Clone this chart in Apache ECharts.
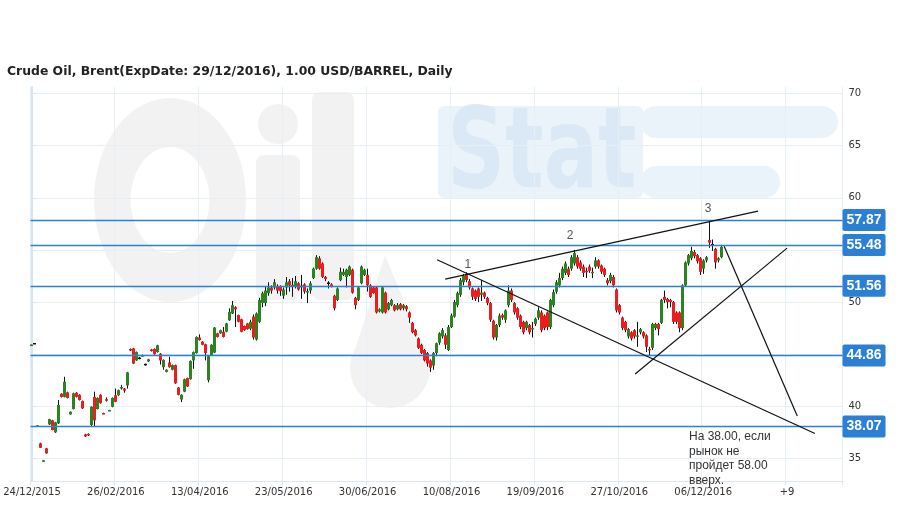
<!DOCTYPE html>
<html><head><meta charset="utf-8">
<script src="https://cdn.jsdelivr.net/npm/echarts@6/dist/echarts.min.js"></script>
<style>html,body{margin:0;padding:0;background:#fff}#c{width:909px;height:509px}</style>
</head><body><div id="c"></div>
<script>
const titleText = 'Crude Oil, Brent(ExpDate: 29/12/2016), 1.00 USD/BARREL, Daily';
const tickLabels = ['24/12/2015','26/02/2016','13/04/2016','23/05/2016','30/06/2016','10/08/2016','19/09/2016','27/10/2016','06/12/2016','+9'];
const labelStep = 28;
const nCat = 271;
// [open, close, low, high] per daily bar
const ohlc = [
[45.85,45.92,45.85,45.92],[46.0,46.0,46.0,46.0],[38.1,38.18,38.1,38.18],[36.44,36.02,36.0,36.5],[34.72,34.82,34.7,34.85],
[35.96,35.48,35.45,36.0],[38.26,38.77,38.2,38.8],[38.65,37.72,37.7,38.7],[37.5,38.46,37.45,38.5],[38.36,40.12,38.3,40.6],
[41.2,40.9,40.85,41.25],[40.9,42.35,40.85,42.83],[41.33,40.8,40.75,41.4],[39.22,39.47,39.2,39.5],[39.73,41.24,39.7,41.3],
[41.3,40.9,40.85,41.35],[41.1,40.6,40.55,41.15],[40.5,39.8,39.75,40.55],[37.3,37.1,37.05,37.35],[37.35,37.2,37.15,37.4],
[38.2,39.95,38.1,40.0],[40.9,38.65,38.1,41.4],[39.73,40.8,39.7,40.85],[41.1,40.3,40.25,41.15],[39.35,39.28,39.25,39.38],
[40.68,40.6,40.45,40.85],[39.58,39.64,39.55,39.66],[39.95,40.8,39.9,40.85],[41.06,40.43,40.4,41.7],[41.06,41.55,41.0,41.6],
[41.75,41.85,41.6,42.05],[41.7,41.5,41.3,41.75],[42.0,43.25,41.7,43.3],[45.5,45.35,45.3,45.55],[45.55,44.1,44.05,45.6],
[44.4,45.2,44.35,45.25],[44.6,44.6,44.5,44.75],[44.85,44.85,44.8,44.95],[44.0,44.0,43.9,44.1],[44.3,44.5,44.25,44.55],
[45.45,45.3,45.25,45.5],[45.5,45.0,44.95,45.55],[45.2,45.85,45.15,45.9],[45.05,44.4,44.0,45.1],[43.75,44.45,43.5,44.5],
[43.3,43.5,43.25,43.55],[44.2,43.75,43.7,44.75],[43.5,43.95,43.45,44.0],[43.95,42.2,42.15,44.0],[41.8,41.1,41.05,41.85],
[40.65,41.1,40.4,41.15],[41.4,42.6,41.35,42.65],[42.7,41.9,41.85,42.75],[42.6,44.35,42.55,44.4],[44.4,45.2,43.6,45.25],
[45.1,46.65,45.05,46.7],[46.6,46.35,46.3,46.9],[46.2,45.9,45.85,46.25],[45.95,45.1,44.4,46.0],[42.5,44.8,42.3,44.85],
[44.9,45.9,44.85,45.95],[45.15,47.55,45.1,47.6],[47.0,46.65,46.6,47.05],[47.0,47.3,46.95,47.35],[47.15,46.65,46.6,47.6],
[47.15,47.95,47.1,48.0],[48.25,49.05,48.2,49.4],[48.9,49.7,48.85,50.1],[49.5,49.3,47.6,49.6],[48.75,48.1,48.05,48.8],
[48.35,47.15,47.1,48.4],[47.7,47.3,47.25,47.75],[47.95,47.4,47.35,48.0],[47.45,48.1,47.3,48.3],[48.6,46.6,46.4,48.8],
[46.4,48.9,46.3,49.0],[48.1,50.2,48.0,50.4],[49.9,50.85,49.5,51.0],[49.9,51.1,49.6,51.5],[50.85,51.4,50.6,51.9],
[51.4,51.1,50.8,51.6],[51.4,51.9,51.2,52.2],[51.5,51.1,50.8,51.7],[51.5,51.05,50.6,51.6],[50.6,51.2,50.3,51.4],
[51.4,51.9,50.7,52.4],[52.0,51.6,51.0,52.2],[51.6,51.65,50.5,52.3],[51.5,52.0,51.3,52.5],[51.8,51.2,51.1,51.9],
[51.5,51.5,50.3,52.6],[51.7,51.0,50.8,51.8],[51.0,51.05,49.9,51.3],[51.1,51.8,50.8,52.0],[52.3,53.2,52.2,53.3],
[53.2,54.3,53.1,54.5],[54.2,53.2,53.1,54.4],[53.7,52.4,52.3,53.8],[52.4,52.2,52.0,52.5],[51.8,51.8,51.3,52.0],
[51.7,51.5,51.4,51.8],[50.6,49.4,49.2,50.7],[50.2,51.3,50.1,51.4],[52.1,52.9,52.0,53.3],[52.6,52.9,52.5,53.2],
[52.4,53.1,51.4,53.2],[52.6,53.4,52.5,53.5],[53.1,50.9,50.8,53.2],[50.4,49.7,49.3,50.5],[50.2,51.4,50.1,51.5],
[51.8,53.4,51.7,53.5],[52.6,53.1,52.5,53.2],[52.6,51.6,51.0,53.2],[51.6,50.5,50.4,51.7],[51.4,50.85,50.8,51.5],
[51.4,49.0,48.9,51.5],[49.1,49.3,49.0,49.4],[49.0,51.4,48.9,51.5],[50.9,49.0,48.9,51.0],[49.3,49.9,49.2,50.0],
[49.7,50.2,49.6,50.3],[49.7,49.2,49.1,49.8],[49.3,49.7,49.2,49.9],[49.8,49.3,49.2,49.9],[49.4,49.7,49.2,49.8],
[49.6,49.3,49.1,49.7],[49.0,48.5,48.0,49.1],[48.0,47.1,47.0,48.1],[47.3,46.8,46.7,47.4],[46.5,45.6,45.5,46.6],
[45.9,45.1,45.0,46.0],[45.4,44.4,44.3,45.5],[45.1,44.1,43.8,45.2],[44.4,43.7,43.3,44.5],[43.9,45.1,43.5,45.2],
[45.1,46.05,44.8,46.1],[46.1,47.0,45.9,47.1],[46.7,47.3,46.5,47.5],[46.8,45.9,45.5,47.0],[45.4,47.6,45.3,47.8],
[47.6,48.7,47.5,48.9],[48.6,50.0,48.5,50.2],[49.7,50.85,49.5,51.0],[50.7,52.1,50.5,52.3],[51.9,52.5,51.6,52.7],
[52.6,52.1,51.9,52.85],[52.0,51.4,51.2,52.2],[51.3,50.5,50.2,51.4],[51.1,50.3,50.1,51.2],[51.3,50.5,50.0,51.4],
[50.7,50.9,50.1,52.1],[50.9,50.5,50.3,51.0],[50.4,49.9,49.7,50.5],[49.9,48.3,48.1,50.0],[48.2,46.6,46.4,48.3],
[46.6,47.8,46.3,47.9],[47.8,48.7,47.6,48.9],[48.75,48.5,48.3,48.9],[48.3,49.2,48.0,49.3],[49.7,51.1,49.5,51.6],
[51.1,50.2,50.0,51.3],[49.9,49.0,48.8,50.0],[49.4,48.5,48.3,49.5],[48.7,47.6,47.4,48.8],[48.1,47.1,46.9,48.2],
[47.5,48.1,47.3,48.2],[47.8,47.1,46.9,47.9],[47.4,47.5,46.6,48.1],[47.9,48.4,47.7,48.5],[48.5,49.2,48.3,49.5],
[49.0,47.3,47.1,49.2],[48.7,47.5,47.3,48.8],[49.0,47.6,47.3,49.1],[47.6,50.2,47.4,50.3],[49.7,50.95,49.5,51.2],
[51.0,51.9,50.8,52.1],[51.6,52.3,51.4,52.8],[52.3,53.2,52.1,53.4],[52.8,53.7,52.6,53.9],[53.2,52.6,52.4,53.4],
[53.2,54.3,53.0,54.5],[53.7,54.7,53.5,55.0],[54.3,53.4,53.2,54.5],[53.8,53.2,53.0,54.0],[53.4,52.8,52.4,53.6],
[53.0,52.95,52.3,53.3],[53.4,53.0,52.8,53.6],[52.8,52.9,52.3,53.3],[53.4,54.0,53.2,54.3],[54.0,53.4,53.2,54.1],
[53.5,52.9,52.7,53.6],[53.2,52.6,52.4,53.3],[52.1,51.8,51.6,52.3],[52.0,52.6,51.8,52.8],[52.4,51.6,51.4,52.6],
[51.2,49.2,49.0,51.3],[49.7,49.0,48.8,49.8],[48.5,47.5,47.3,48.6],[48.1,47.3,47.1,48.2],[46.7,47.4,46.5,47.5],
[47.1,46.5,46.3,47.2],[47.3,46.7,46.5,47.4],[46.7,46.8,45.7,48.1],[47.1,47.4,46.9,47.5],[47.1,46.7,46.5,47.2],
[46.8,45.7,45.2,46.9],[45.5,45.45,44.9,45.7],[45.6,47.9,45.4,48.0],[47.5,47.9,47.3,48.0],[47.9,47.4,46.8,48.0],
[48.0,50.2,47.9,50.3],[50.5,50.2,49.9,51.1],[50.3,50.0,49.4,50.4],[50.2,50.0,49.5,50.3],[50.0,48.1,47.9,50.1],
[49.0,48.1,47.9,49.1],[49.0,47.5,47.1,49.1],[47.5,51.6,47.3,51.7],[51.6,53.8,51.5,53.9],[53.7,54.5,53.5,54.6],
[54.2,54.9,54.0,55.3],[54.8,54.4,54.2,55.0],[54.5,53.9,53.7,54.6],[54.2,52.9,52.6,54.3],[53.2,54.0,52.7,54.1],
[54.0,54.3,53.8,54.4],[55.95,55.7,55.2,57.87],[55.5,55.5,54.9,56.0],[55.1,53.8,53.2,55.2],[54.0,54.2,53.8,54.3],
[54.3,55.3,54.2,55.5]
];
const levels = [57.87, 55.48, 51.56, 44.86, 38.07];
// trend lines: [[barIndex, price], [barIndex, price]]
const trendLines = [
  [[137.9, 52.2], [242.3, 58.72]],
  [[135.2, 54.06], [261.3, 37.38]],
  [[201.3, 43.09], [252.0, 55.17]],
  [[231.0, 55.36], [255.4, 39.06]]
];
const waveLabels = [['1', 145.5, 53.54], ['2', 179.6, 56.32], ['3', 225.6, 59.0]];
const noteText = 'На 38.00, если\nрынок не\nпройдет 58.00\nвверх.';
const yMin = 32.83, yMax = 70.63;

const categories = Array.from({length: nCat}, (_, i) => String(i));
const candleData = ohlc.map((d, i) => [i, d[0], d[1], d[2], d[3]]);

const chart = echarts.init(document.getElementById('c'), null, {renderer: 'canvas'});
const gridColor = '#e6eef6';
const wmGray = '#f2f2f2';
const wmBlue = '#ebf3fa';
chart.setOption({
  animation: false,
  backgroundColor: '#fff',
  title: {
    text: titleText, left: 2, top: 61,
    textStyle: {fontFamily: 'DejaVu Sans', fontWeight: 'bold', fontSize: 12.4, color: '#222'}
  },
  grid: {left: 30.5, right: 66.5, top: 87, bottom: 28, outerBoundsMode: 'none'},
  graphic: {elements: [
    {type: 'ring', z: -10, x: 170, y: 200, scaleX: 0.76, scaleY: 1.02, shape: {cx: 0, cy: 0, r: 100, r0: 52}, style: {fill: wmGray}},
    {type: 'rect', z: -10, shape: {x: 256, y: 155, width: 44, height: 145, r: 8}, style: {fill: wmGray}},
    {type: 'circle', z: -10, shape: {cx: 278, cy: 124, r: 20}, style: {fill: wmGray}},
    {type: 'rect', z: -10, shape: {x: 312, y: 92, width: 42, height: 208, r: 8}, style: {fill: wmGray}},
    {type: 'circle', z: -10, shape: {cx: 390, cy: 368, r: 40}, style: {fill: wmGray}},
    {type: 'polygon', z: -10, shape: {points: [[385, 255], [352, 360], [428, 360]]}, style: {fill: wmGray}},
    {type: 'rect', z: -10, shape: {x: 438, y: 106, width: 205, height: 92, r: 6}, style: {fill: wmBlue}},
    {type: 'text', z: -9, x: 447, y: 102, scaleX: 0.72, style: {text: 'Stat', font: 'bold 112px "DejaVu Sans"', fill: '#dbe9f6'}},
    {type: 'rect', z: -10, shape: {x: 640, y: 106, width: 198, height: 32, r: 16}, style: {fill: wmBlue}},
    {type: 'rect', z: -10, shape: {x: 640, y: 166, width: 140, height: 32, r: 16}, style: {fill: wmBlue}},
    {type: 'text', z: 5, x: 689, y: 429.5, style: {text: noteText, font: '12px "Liberation Sans"', fill: '#333', lineHeight: 14.5}}
  ]},
  xAxis: [{
    type: 'category', data: categories, boundaryGap: true,
    axisLine: {show: true, lineStyle: {color: '#dce6ef', width: 1}},
    axisTick: {show: true, interval: labelStep - 1, length: 4, lineStyle: {color: '#dce6ef'}},
    splitLine: {show: true, interval: labelStep - 1, lineStyle: {color: gridColor, width: 1}},
    axisLabel: {
      interval: labelStep - 1, margin: 6, color: '#333', fontSize: 10, fontFamily: 'DejaVu Sans',
      formatter: (v, idx) => idx % labelStep === 0 ? (tickLabels[idx / labelStep] || '') : ''
    }
  }, {
    type: 'value', show: false, min: -0.5, max: nCat - 0.5
  }],
  yAxis: {
    type: 'value', position: 'right', min: yMin, max: yMax, splitNumber: 8, scale: true,
    axisLine: {show: true, lineStyle: {color: '#d8e5f0', width: 2}},
    axisTick: {show: true, length: 4, lineStyle: {color: '#d8e5f0'}},
    splitLine: {show: true, showMinLine: false, showMaxLine: false, lineStyle: {color: gridColor, width: 1}},
    axisLabel: {margin: 6, color: '#333', fontSize: 10, fontFamily: 'DejaVu Sans', showMinLabel: false, showMaxLabel: false}
  },
  series: [{
    type: 'custom',
    xAxisIndex: 0,
    data: candleData,
    encode: {x: 0, y: [1, 2, 3, 4]},
    renderItem: function (params, api) {
      const i = api.value(0), o = api.value(1), c = api.value(2), l = api.value(3), h = api.value(4);
      const pO = api.coord([i, o]), pC = api.coord([i, c]);
      const pL = api.coord([i, l]), pH = api.coord([i, h]);
      const cx = Math.floor(pO[0]) + 0.5;
      const children = [{type: 'line', shape: {x1: cx, y1: pH[1], x2: cx, y2: pL[1]}, style: {stroke: '#111', lineWidth: 1}}];
      if (o === c) {
        children.push({type: 'line', shape: {x1: cx - 1.5, y1: pO[1], x2: cx + 1.5, y2: pO[1]}, style: {stroke: '#111', lineWidth: 1.5}});
      } else {
        const top = Math.min(pO[1], pC[1]);
        const hgt = Math.max(Math.abs(pO[1] - pC[1]), 1.5);
        children.push({type: 'rect', shape: {x: cx - 1.5, y: top, width: 3, height: hgt},
          style: {fill: c > o ? '#2c8420' : '#ee1c1c'}});
      }
      return {type: 'group', children};
    },
    markLine: {
      silent: true, symbol: ['none', 'none'], animation: false,
      data: levels.map(v => ({
        yAxis: v,
        lineStyle: {color: '#2b80d6', width: 1.3, type: 'solid'},
        label: {show: true, position: 'end', distance: 0, formatter: v.toFixed(2), color: '#fff',
          backgroundColor: '#2b7fd4', fontFamily: 'Liberation Sans', fontWeight: 'bold', fontSize: 14,
          padding: [4, 4, 4, 4], borderRadius: 2}
      }))
    }
  }, {
    type: 'line', xAxisIndex: 1, data: [], silent: true,
    markLine: {
      silent: true, symbol: ['none', 'none'], animation: false,
      lineStyle: {color: '#111', width: 1.2, type: 'solid'},
      label: {show: false},
      data: trendLines.map(([a, b]) => [{coord: a}, {coord: b}])
    },
    markPoint: {
      silent: true, symbol: 'circle', symbolSize: 1, itemStyle: {color: 'rgba(0,0,0,0)'},
      label: {show: true, position: 'inside', formatter: '{b}', color: '#555', fontSize: 12, fontFamily: 'Liberation Sans'},
      data: waveLabels.map(([t, i, p]) => ({name: t, coord: [i, p]}))
    }
  }]
});
</script></body></html>
